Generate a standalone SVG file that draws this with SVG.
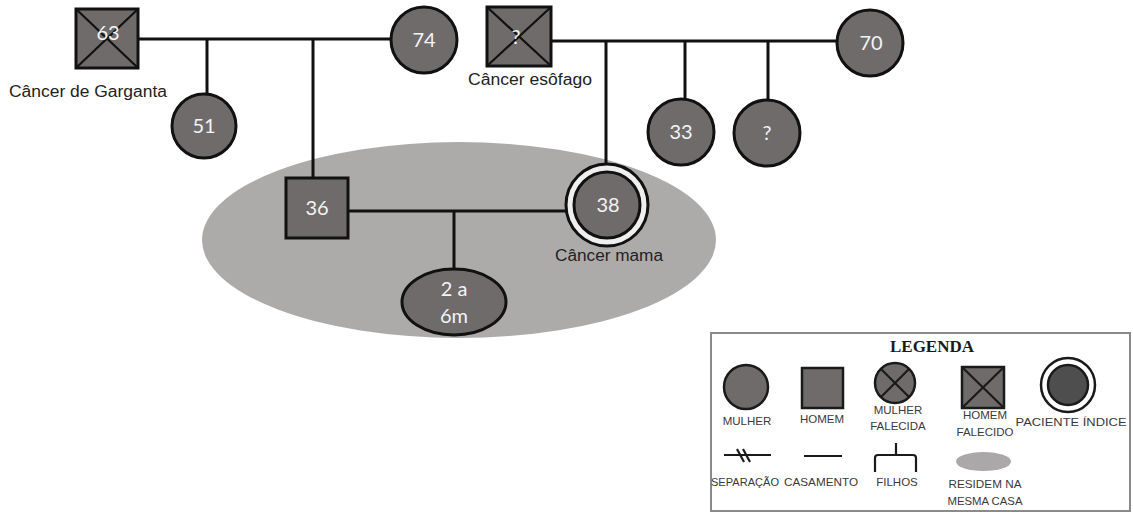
<svg xmlns="http://www.w3.org/2000/svg" width="1133" height="513" viewBox="0 0 1133 513">
  <style>
    .node { fill: #6f6b6b; stroke: #111; stroke-width: 3; }
    .x { stroke: #111; stroke-width: 2.2; }
    .link { stroke: #111; stroke-width: 3; fill: none; }
    .num { font-family: Lato, "Open Sans", sans-serif; font-size: 20px; fill: #f4f4f4; text-anchor: middle; }
    .note { font-family: "Liberation Sans", Arial, sans-serif; font-size: 16px; fill: #222; }
    .leg { font-family: "Liberation Sans", Arial, sans-serif; font-size: 11.5px; fill: #3a3a3a; text-anchor: middle; }
    .legnode { fill: #6f6b6b; stroke: #1a1a1a; stroke-width: 2.5; }
    .legline { stroke: #1a1a1a; stroke-width: 2.2; fill: none; }
  </style>

  <rect width="1133" height="513" fill="#ffffff"/>

  <!-- household area -->
  <g id="household">
    <ellipse cx="459" cy="240" rx="257" ry="98" fill="#adaaaa"/>
  </g>

  <!-- connectors -->
  <g id="connectors" class="link">
    <!-- paternal couple -->
    <line x1="138" y1="39" x2="391" y2="39"/>
    <line x1="207" y1="39" x2="207" y2="94"/>
    <line x1="313" y1="39" x2="313" y2="178"/>
    <!-- maternal couple -->
    <line x1="551" y1="41" x2="837" y2="41"/>
    <line x1="606" y1="41" x2="606" y2="173"/>
    <line x1="685" y1="41" x2="685" y2="99"/>
    <line x1="768" y1="41" x2="768" y2="100"/>
    <!-- index couple -->
    <line x1="349" y1="211" x2="574" y2="211"/>
    <line x1="454" y1="211" x2="454" y2="269"/>
  </g>

  <!-- paternal grandfather -->
  <g id="node-63">
    <rect class="node" x="76" y="9" width="62" height="59"/>
    <line class="x" x1="76" y1="9" x2="138" y2="68"/>
    <line class="x" x1="138" y1="9" x2="76" y2="68"/>
    <text class="num" x="108" y="40">63</text>
    <text class="note" x="9" y="97" textLength="158" lengthAdjust="spacingAndGlyphs">Câncer de Garganta</text>
  </g>

  <g id="node-74">
    <circle class="node" cx="424" cy="40" r="33"/>
    <text class="num" x="424" y="47">74</text>
  </g>

  <g id="node-51">
    <circle class="node" cx="204" cy="126" r="32"/>
    <text class="num" x="204" y="133">51</text>
  </g>

  <!-- maternal grandfather -->
  <g id="node-mgf">
    <rect class="node" x="487" y="7" width="64" height="59"/>
    <line class="x" x1="487" y1="7" x2="551" y2="66"/>
    <line class="x" x1="551" y1="7" x2="487" y2="66"/>
    <text class="num" x="516" y="44">?</text>
    <text class="note" x="468" y="85" textLength="124" lengthAdjust="spacingAndGlyphs">Câncer esôfago</text>
  </g>

  <g id="node-70">
    <circle class="node" cx="870" cy="43" r="33"/>
    <text class="num" x="871" y="50">70</text>
  </g>

  <g id="node-33">
    <circle class="node" cx="681" cy="132" r="33"/>
    <text class="num" x="681" y="139">33</text>
  </g>

  <g id="node-unknown">
    <circle class="node" cx="767" cy="133" r="33"/>
    <text class="num" x="767" y="140">?</text>
  </g>

  <g id="node-36">
    <rect class="node" x="286" y="178" width="62" height="60"/>
    <text class="num" x="317" y="215">36</text>
  </g>

  <!-- index patient -->
  <g id="node-38">
    <circle cx="607" cy="205" r="41" fill="#efefef" stroke="#111" stroke-width="3"/>
    <circle class="node" cx="607" cy="205" r="33"/>
    <text class="num" x="608" y="212">38</text>
    <text class="note" x="555" y="261" textLength="108" lengthAdjust="spacingAndGlyphs">Câncer mama</text>
  </g>

  <g id="node-child">
    <ellipse class="node" cx="454" cy="302" rx="52" ry="33"/>
    <text class="num" x="454" y="296">2 a</text>
    <text class="num" x="454" y="323">6m</text>
  </g>

  <!-- legend -->
  <g id="legend">
    <rect x="711" y="333" width="419" height="178" fill="#ffffff" stroke="#8a8a8a" stroke-width="2"/>
    <text x="932" y="352" font-family="'Liberation Serif', 'Times New Roman', serif" font-weight="bold" font-size="16" fill="#1a1a1a" text-anchor="middle" textLength="84" lengthAdjust="spacingAndGlyphs">LEGENDA</text>

    <circle class="legnode" cx="746" cy="387" r="22"/>
    <text class="leg" x="747" y="425">MULHER</text>

    <rect class="legnode" x="802" y="368" width="41" height="40"/>
    <text class="leg" x="822" y="423">HOMEM</text>

    <circle class="legnode" cx="895" cy="383" r="20"/>
    <line class="legline" x1="881" y1="369" x2="909" y2="397"/>
    <line class="legline" x1="909" y1="369" x2="881" y2="397"/>
    <text class="leg" x="898" y="414">MULHER</text>
    <text class="leg" x="898" y="430">FALECIDA</text>

    <rect class="legnode" x="962" y="367" width="42" height="41"/>
    <line class="legline" x1="962" y1="367" x2="1004" y2="408"/>
    <line class="legline" x1="1004" y1="367" x2="962" y2="408"/>
    <text class="leg" x="985" y="419">HOMEM</text>
    <text class="leg" x="985" y="436">FALECIDO</text>

    <circle cx="1068" cy="385" r="27" fill="#ffffff" stroke="#1a1a1a" stroke-width="2.5"/>
    <circle cx="1068" cy="385" r="20" fill="#4e4e4e" stroke="#1a1a1a" stroke-width="2.5"/>
    <text class="leg" x="1071" y="426" font-size="13" textLength="111" lengthAdjust="spacingAndGlyphs">PACIENTE ÍNDICE</text>

    <line class="legline" x1="724" y1="455" x2="771" y2="455"/>
    <line class="legline" x1="737" y1="449" x2="744" y2="462"/>
    <line class="legline" x1="743" y1="449" x2="750" y2="462"/>
    <text class="leg" x="745" y="486" textLength="68" lengthAdjust="spacingAndGlyphs">SEPARAÇÃO</text>

    <line class="legline" x1="804" y1="456" x2="842" y2="456"/>
    <text class="leg" x="821" y="486" textLength="74" lengthAdjust="spacingAndGlyphs">CASAMENTO</text>

    <path class="legline" d="M875 472 V458 Q875 455 878 455 H913 Q916 455 916 458 V472 M896 455 V443"/>
    <text class="leg" x="897" y="486">FILHOS</text>

    <ellipse cx="983.5" cy="461.5" rx="27.5" ry="9.5" fill="#aaa8a8"/>
    <text class="leg" x="985" y="488" font-family="Lato, 'Open Sans', sans-serif" font-size="12.5" textLength="73" lengthAdjust="spacingAndGlyphs">RESIDEM NA</text>
    <text class="leg" x="985" y="505" font-family="Lato, 'Open Sans', sans-serif" font-size="12.5" textLength="75" lengthAdjust="spacingAndGlyphs">MESMA CASA</text>
  </g>
</svg>
